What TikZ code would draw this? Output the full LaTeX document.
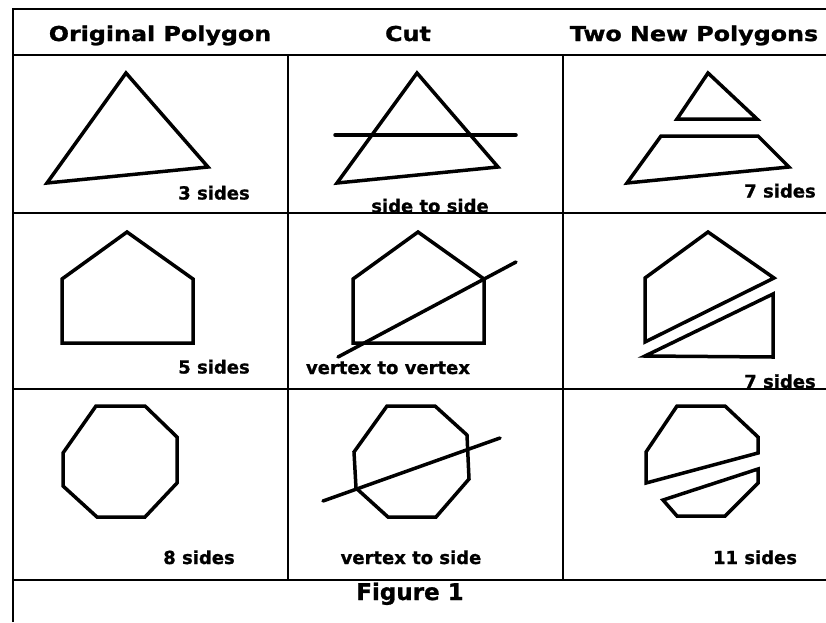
\documentclass[tikz,border=0pt]{standalone}
\usepackage{fontspec}
\newfontfamily\headfont[FakeStretch=1.16, FakeBold=1.2]{DejaVu Sans}
\newfontfamily\labelfont[FakeBold=1.0]{DejaVu Sans}
\tikzset{
  gridline/.style={line width=2.5pt},
  polyline/.style={line width=3.5pt},
  cutline/.style={line width=3.5pt, line cap=round},
  headtext/.style={anchor=base, inner sep=0pt,
                   font=\headfont\bfseries\fontsize{20.5}{24}\selectfont},
  sidetext/.style={anchor=base, inner sep=0pt,
                   font=\labelfont\bfseries\fontsize{18}{21}\selectfont},
  figtext/.style={anchor=base, inner sep=0pt,
                  font=\labelfont\bfseries\fontsize{23}{27}\selectfont},
}
\begin{document}
\begin{tikzpicture}[x=1pt, y=-1pt]
  \useasboundingbox (0,0) rectangle (826,622);

  % headings
  \node[headtext] (hOrig) at (160,41) {Original Polygon};
  \node[headtext] (hCut)  at (408,41) {Cut};
  \node[headtext] (hTwo)  at (694,41) {Two New Polygons};

  % row 1: triangle
  \draw[polyline] (126,73) -- (47,183) -- (208,167) -- cycle;
  \draw[polyline] (417,73) -- (337,183) -- (498,167) -- cycle;
  \draw[cutline] (335,135) -- (516,135);
  \draw[polyline] (708,73) -- (677,119) -- (757,119) -- cycle;
  \draw[polyline] (661,136) -- (758,136) -- (789,167) -- (627,183) -- cycle;
  \node[sidetext] (s3)  at (214,199.5) {3 sides};
  \node[sidetext] (c1)  at (430,212.5) {side to side};
  \node[sidetext] (n7a) at (780,197.5) {7 sides};

  % row 2: pentagon
  \draw[polyline] (127,232) -- (62,279) -- (62,343) -- (193,343) -- (193,279) -- cycle;
  \draw[polyline] (418,232) -- (353,279) -- (353,343) -- (484,343) -- (484,279) -- cycle;
  \draw[cutline] (338,357) -- (516,262);
  \draw[polyline] (708,232) -- (645,278) -- (645,342) -- (774,278) -- cycle;
  \draw[polyline] (645,356) -- (773,294) -- (773,357) -- cycle;
  \node[sidetext] (s5)  at (214,373.5) {5 sides};
  \node[sidetext] (c2)  at (388,374) {vertex to vertex};
  \node[sidetext] (n7b) at (780,388) {7 sides};

  % row 3: octagon
  \draw[polyline] (96,406) -- (145,406) -- (177,437) -- (177,483) -- (145,517)
    -- (97,517) -- (63,486) -- (63,453) -- cycle;
  \draw[polyline] (387,406) -- (435,406) -- (467,435) -- (469,479) -- (436,517)
    -- (388,517) -- (356,488) -- (354,452) -- cycle;
  \draw[cutline] (323,501) -- (500,438);
  \draw[polyline] (677,406) -- (725,406) -- (758,437) -- (758,453) -- (646,483)
    -- (646,452) -- cycle;
  \draw[polyline] (663,500) -- (758,469) -- (758,483) -- (725,516) -- (677,516) -- cycle;
  \node[sidetext] (s8)  at (199,564) {8 sides};
  \node[sidetext] (c3)  at (411,564) {vertex to side};
  \node[sidetext] (n11) at (755,564) {11 sides};

  \node[figtext] (fig) at (410,600) {Figure 1};

  % table rules
  \draw[gridline] (13,622) -- (13,9) -- (826,9);
  \foreach \y in {55,213,389,580}
    \draw[gridline] (13,\y) -- (826,\y);
  \foreach \x in {288,563}
    \draw[gridline] (\x,55) -- (\x,580);
\end{tikzpicture}
\end{document}
